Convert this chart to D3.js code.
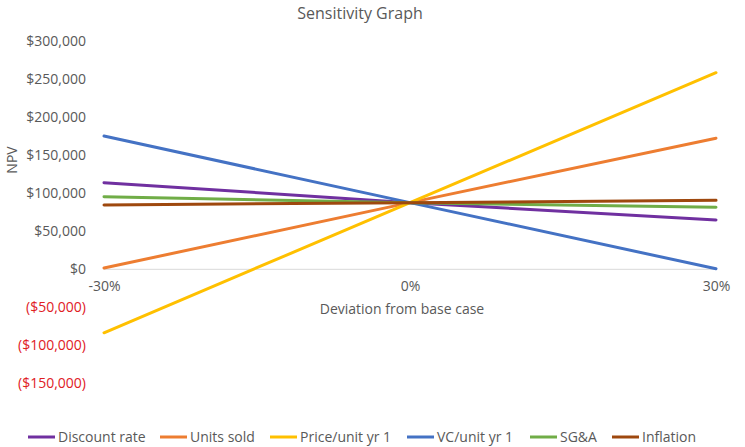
<!DOCTYPE html>
<html><head><meta charset="utf-8">
<script src="https://cdn.jsdelivr.net/npm/d3@7"></script>
<style>body{margin:0;background:#fff}svg{display:block}text{font-family:"Open Sans",sans-serif}</style>
</head><body><svg id="c" width="745" height="447"></svg>
<script>
const categories = ["-30%", "0%", "30%"];
const yTicks = [-150000, -100000, -50000, 0, 50000, 100000, 150000, 200000, 250000, 300000];
const seriesNames = ["Discount rate", "Units sold", "Price/unit yr 1", "VC/unit yr 1", "SG&A", "Inflation"];
const discountRate = [114000, 87700, 65000];
const unitsSold = [1700, 87700, 172500];
const priceUnit = [-83500, 87700, 258700];
const vcUnit = [175400, 87700, 700];
const sga = [95500, 87700, 81600];
const inflation = [84600, 87700, 90700];
const colors = ["#7030A0", "#ED7D31", "#FFC000", "#4472C4", "#70AD47", "#9E480E"];

const allSeries = [discountRate, unitsSold, priceUnit, vcUnit, sga, inflation];
const svg = d3.select("#c");
const x = d3.scalePoint().domain(categories).range([104, 716]);
const y = d3.scaleLinear().domain([-150000, 300000]).range([383.3, 41.3]);
const fmt = v => v < 0 ? "($" + d3.format(",")(-v) + ")" : "$" + d3.format(",")(v);
const FF = "'Open Sans',sans-serif";

svg.append("text").attr("x", 360).attr("y", 19).attr("text-anchor", "middle")
  .attr("font-size", 16).attr("fill", "#595959").text("Sensitivity Graph");

// y axis labels
const yAxis = d3.axisLeft(y).tickValues(yTicks).tickFormat(fmt).tickSize(0).tickPadding(0);
const ya = svg.append("g").attr("transform", "translate(86,0)").call(yAxis);
ya.select(".domain").remove();
ya.selectAll("text").attr("font-size", 14).attr("font-family", FF)
  .attr("fill", d => d < 0 ? "#e0201f" : "#595959");

// zero line
svg.append("line").attr("x1", 104).attr("x2", 716).attr("y1", y(0)).attr("y2", y(0))
  .attr("stroke", "#d9d9d9").attr("stroke-width", 1);

// x axis labels
const xAxis = d3.axisBottom(x).tickSize(0).tickPadding(0);
const xa = svg.append("g").attr("transform", "translate(0," + (y(0) + 12) + ")").call(xAxis);
xa.select(".domain").remove();
xa.selectAll("text").attr("font-size", 14).attr("font-family", FF).attr("fill", "#595959");

svg.append("text").attr("x", 402).attr("y", 314).attr("text-anchor", "middle")
  .attr("font-size", 14).attr("fill", "#595959").text("Deviation from base case");
svg.append("text").attr("transform", "translate(17,160) rotate(-90)").attr("text-anchor", "middle")
  .attr("font-size", 14).attr("fill", "#595959").text("NPV");

const line = d3.line().x((d, i) => x(categories[i])).y(d => y(d));
allSeries.forEach((s, i) => {
  svg.append("path").datum(s).attr("d", line).attr("fill", "none")
    .attr("stroke", colors[i]).attr("stroke-width", 3).attr("stroke-linecap", "round");
});

// legend
const legX = [28, 160, 270, 407, 530, 612];
const lg = svg.append("g");
seriesNames.forEach((n, i) => {
  lg.append("line").attr("x1", legX[i]).attr("x2", legX[i] + 27).attr("y1", 437).attr("y2", 437)
    .attr("stroke", colors[i]).attr("stroke-width", 3);
  lg.append("text").attr("x", legX[i] + 30).attr("y", 442).attr("font-size", 14)
    .attr("fill", "#595959").text(n);
});
</script></body></html>
